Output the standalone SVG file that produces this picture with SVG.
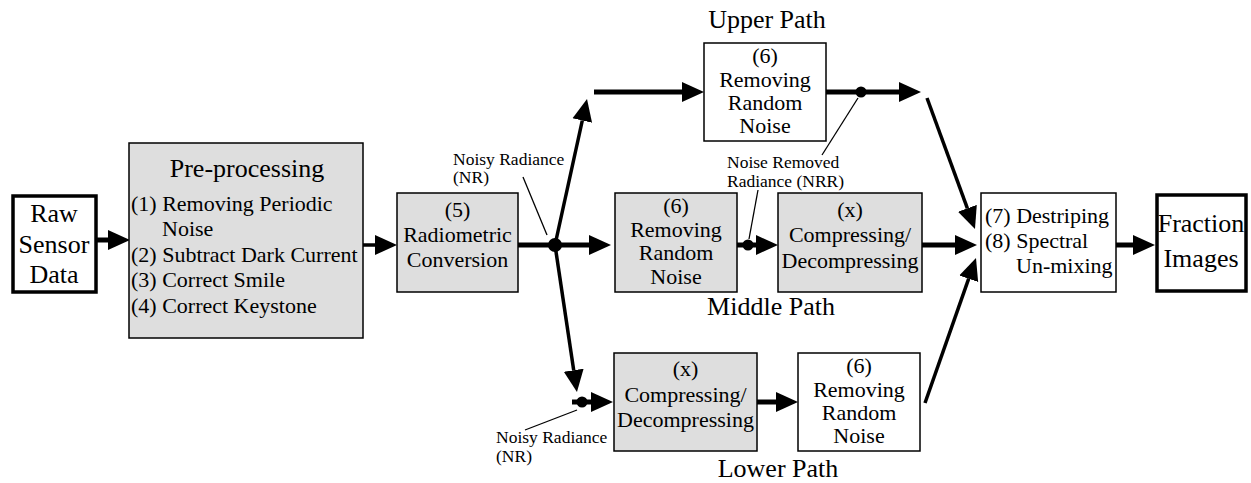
<svg xmlns="http://www.w3.org/2000/svg" width="1251" height="483" viewBox="0 0 1251 483">
  <style>
    text { font-family: "Liberation Serif", "Times New Roman", serif; fill: #000; }
    .big { font-size: 26px; }
    .mid { font-size: 22px; }
    .small { font-size: 17.5px; }
    .c { text-anchor: middle; }
    .box { fill: #fff; stroke: #000; stroke-width: 1.5; }
    .gray { fill: #dedede; stroke: #000; stroke-width: 1.5; }
    .io { fill: #fff; stroke: #000; stroke-width: 3.5; }
    .wire { stroke: #000; stroke-width: 5; fill: none; }
    .wire-thin { stroke: #000; stroke-width: 3.5; fill: none; }
    .leader { stroke: #000; stroke-width: 1.3; fill: none; }
  </style>
  <defs>
    <marker id="arrow" markerUnits="userSpaceOnUse" markerWidth="23" markerHeight="22" viewBox="0 -11 23 22" refX="0" refY="0" orient="auto">
      <path d="M0,-10 L22,0 L0,10 Z" fill="#000"/>
    </marker>
  </defs>

  <rect width="1251" height="483" fill="#fff"/>

  <!-- connectors -->
  <g id="connectors">
    <line class="wire" x1="97" y1="240" x2="108" y2="240" marker-end="url(#arrow)"/>
    <line class="wire-thin" x1="363" y1="245" x2="375" y2="245" marker-end="url(#arrow)"/>
    <line class="wire" x1="518" y1="245" x2="589" y2="245" marker-end="url(#arrow)"/>
    <circle cx="555" cy="245" r="7" fill="#000"/>
    <line class="wire-thin" x1="555" y1="245" x2="582.3" y2="120.5" marker-end="url(#arrow)"/>
    <line class="wire-thin" x1="555" y1="245" x2="573.7" y2="370.2" marker-end="url(#arrow)"/>
    <line class="leader" x1="523" y1="177" x2="547" y2="235"/>

    <!-- upper path -->
    <line class="wire" x1="594" y1="92" x2="682" y2="92" marker-end="url(#arrow)"/>
    <line class="wire" x1="826" y1="92" x2="899" y2="92" marker-end="url(#arrow)"/>
    <circle cx="861" cy="92" r="5.5" fill="#000"/>
    <line class="leader" x1="858" y1="98" x2="822" y2="155"/>
    <line class="wire-thin" x1="927" y1="98" x2="967.4" y2="208.3" marker-end="url(#arrow)"/>

    <!-- middle path -->
    <line class="wire" x1="737" y1="245" x2="756" y2="245" marker-end="url(#arrow)"/>
    <circle cx="748" cy="245" r="5.5" fill="#000"/>
    <line class="leader" x1="749" y1="239" x2="758" y2="190"/>
    <line class="wire" x1="922" y1="245" x2="955" y2="245" marker-end="url(#arrow)"/>

    <!-- lower path -->
    <line class="wire" x1="572" y1="402" x2="591" y2="402" marker-end="url(#arrow)"/>
    <circle cx="582" cy="402" r="5.5" fill="#000"/>
    <line class="leader" x1="577" y1="410" x2="525" y2="430"/>
    <line class="wire" x1="757" y1="402" x2="776" y2="402" marker-end="url(#arrow)"/>
    <line class="wire-thin" x1="925" y1="403" x2="968.7" y2="278.7" marker-end="url(#arrow)"/>

    <!-- output -->
    <line class="wire" x1="1116" y1="245" x2="1133" y2="245" marker-end="url(#arrow)"/>
  </g>

  <!-- nodes -->
  <g id="raw-sensor-data">
    <rect class="io" x="13" y="196" width="83" height="96"/>
    <text class="big c" x="54" y="222">Raw</text>
    <text class="big c" x="54" y="253">Sensor</text>
    <text class="big c" x="54" y="283">Data</text>
  </g>

  <g id="pre-processing">
    <rect class="gray" x="129" y="143" width="234" height="195"/>
    <text class="big c" x="247" y="177">Pre-processing</text>
    <text class="mid" x="131" y="211">(1) Removing Periodic</text>
    <text class="mid" x="162" y="236">Noise</text>
    <text class="mid" x="131" y="262">(2) Subtract Dark Current</text>
    <text class="mid" x="131" y="287">(3) Correct Smile</text>
    <text class="mid" x="131" y="313">(4) Correct Keystone</text>
  </g>

  <g id="radiometric-conversion">
    <rect class="gray" x="397" y="193" width="121" height="99"/>
    <text class="mid c" x="457.5" y="217">(5)</text>
    <text class="mid c" x="457.5" y="242">Radiometric</text>
    <text class="mid c" x="457.5" y="267">Conversion</text>
  </g>

  <g id="label-noisy-radiance-top">
    <text class="small" x="453" y="165">Noisy Radiance</text>
    <text class="small" x="453" y="183">(NR)</text>
  </g>

  <g id="upper-path-label">
    <text class="big c" x="767" y="28">Upper Path</text>
  </g>

  <g id="upper-removing-noise">
    <rect class="box" x="704" y="43" width="122" height="98"/>
    <text class="mid c" x="765" y="63">(6)</text>
    <text class="mid c" x="765" y="87">Removing</text>
    <text class="mid c" x="765" y="110">Random</text>
    <text class="mid c" x="765" y="133">Noise</text>
  </g>

  <g id="label-nrr">
    <text class="small" x="727" y="168">Noise Removed</text>
    <text class="small" x="727" y="187">Radiance (NRR)</text>
  </g>

  <g id="middle-removing-noise">
    <rect class="gray" x="615" y="193" width="122" height="99"/>
    <text class="mid c" x="676" y="213">(6)</text>
    <text class="mid c" x="676" y="237">Removing</text>
    <text class="mid c" x="676" y="260">Random</text>
    <text class="mid c" x="676" y="284">Noise</text>
  </g>

  <g id="middle-compressing">
    <rect class="gray" x="778" y="193" width="144" height="99"/>
    <text class="mid c" x="850" y="217">(x)</text>
    <text class="mid c" x="850" y="242">Compressing/</text>
    <text class="mid c" x="850" y="268">Decompressing</text>
  </g>

  <g id="middle-path-label">
    <text class="big c" x="771" y="315">Middle Path</text>
  </g>

  <g id="lower-compressing">
    <rect class="gray" x="614" y="353" width="143" height="98"/>
    <text class="mid c" x="685.5" y="376">(x)</text>
    <text class="mid c" x="685.5" y="402">Compressing/</text>
    <text class="mid c" x="685.5" y="427">Decompressing</text>
  </g>

  <g id="lower-removing-noise">
    <rect class="box" x="798" y="353" width="122" height="98"/>
    <text class="mid c" x="859" y="373">(6)</text>
    <text class="mid c" x="859" y="397">Removing</text>
    <text class="mid c" x="859" y="420">Random</text>
    <text class="mid c" x="859" y="443">Noise</text>
  </g>

  <g id="label-noisy-radiance-bottom">
    <text class="small" x="496" y="443">Noisy Radiance</text>
    <text class="small" x="496" y="462">(NR)</text>
  </g>

  <g id="lower-path-label">
    <text class="big c" x="778" y="477">Lower Path</text>
  </g>

  <g id="destriping-unmixing">
    <rect class="box" x="981" y="193" width="135" height="99"/>
    <text class="mid" x="985" y="223">(7) Destriping</text>
    <text class="mid" x="985" y="248">(8) Spectral</text>
    <text class="mid" x="1016" y="273">Un-mixing</text>
  </g>

  <g id="fraction-images">
    <rect class="io" x="1157" y="195" width="89" height="96"/>
    <text class="big c" x="1201" y="232">Fraction</text>
    <text class="big c" x="1201" y="267">Images</text>
  </g>
</svg>
